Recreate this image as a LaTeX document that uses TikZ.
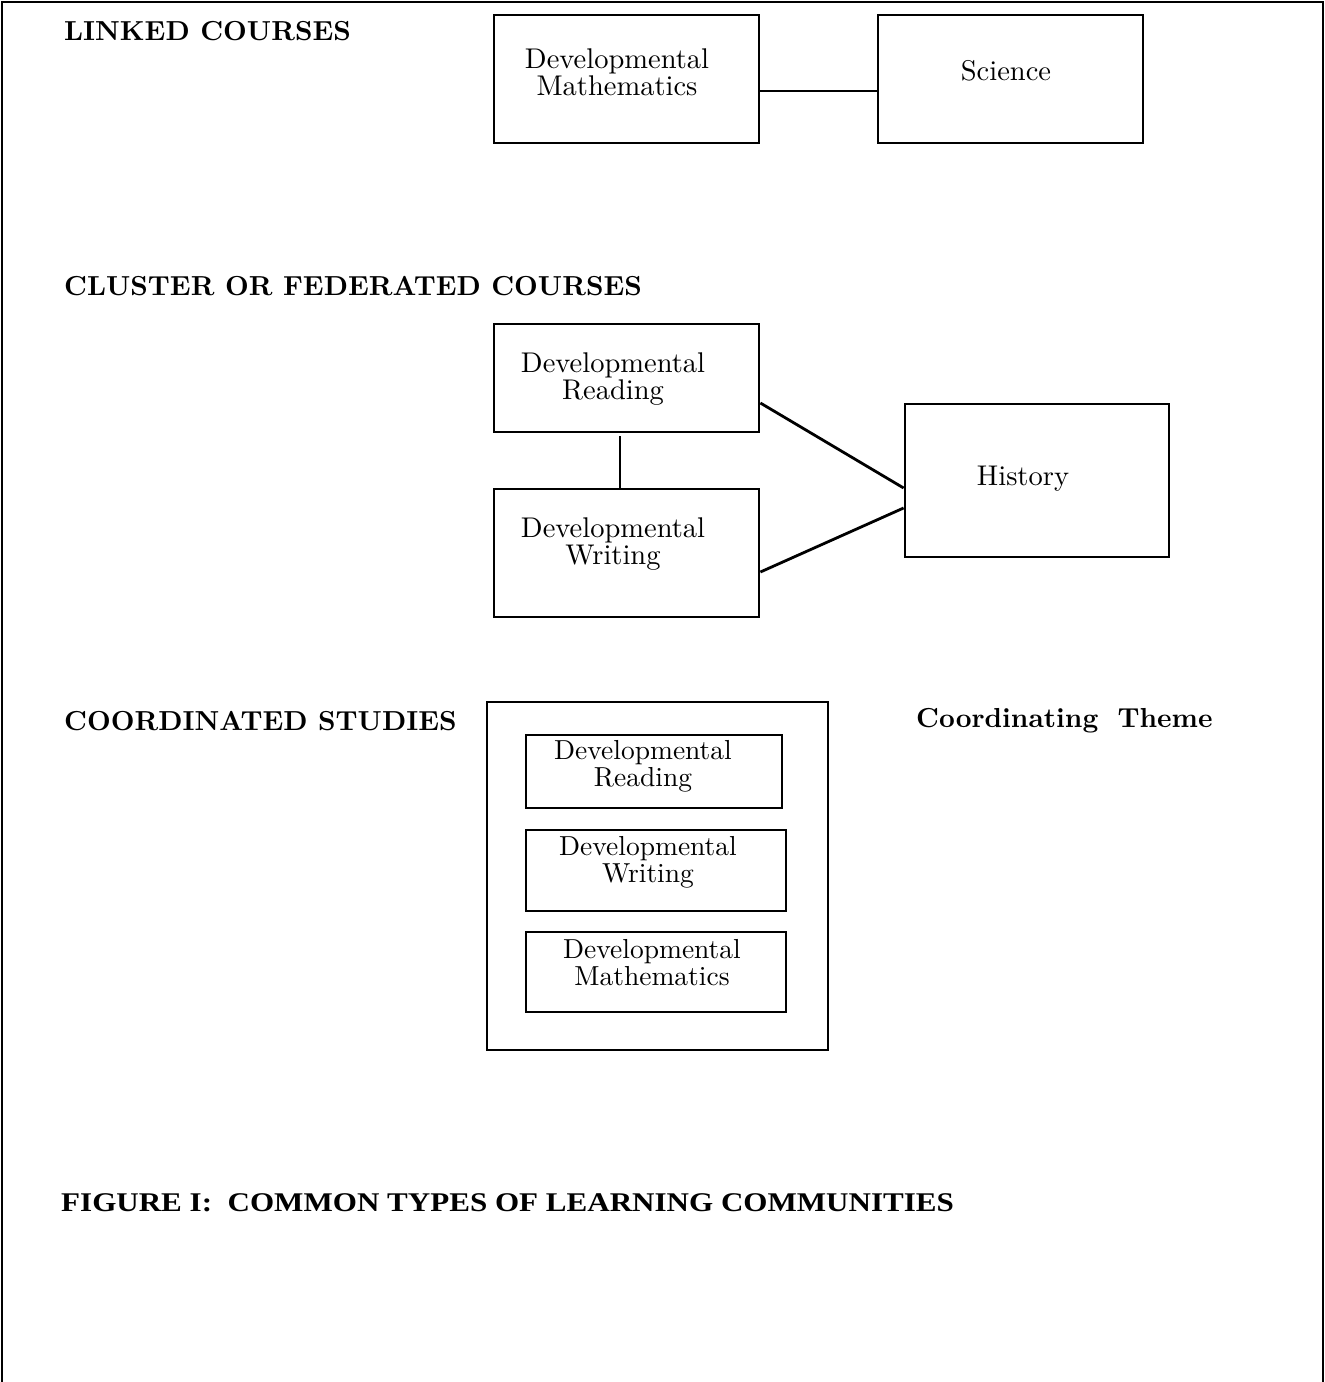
\documentclass[tikz,border=0pt]{standalone}
\usepackage{fontspec}
\setmainfont{lmroman10-regular.otf}[BoldFont=lmroman10-bold.otf]
\newfontfamily\capfont{Liberation Serif}
\begin{document}
\begin{tikzpicture}[x=1pt,y=-1pt,
  box/.style={draw,line width=2.8pt,inner sep=0pt},
  lbl/.style={align=center,font=\fontsize{28.5}{27}\selectfont,inner sep=0pt},
  slbl/.style={align=center,font=\fontsize{27.5}{27}\selectfont,inner sep=0pt},
  head/.style={anchor=west,font=\fontsize{27.5}{30}\selectfont\bfseries,inner sep=0pt},
  conn/.style={line width=2.8pt}]
\useasboundingbox (0,0) rectangle (1325,1382);
\draw[line width=2.2pt] (2,1382) -- (2,2) -- (1323,2) -- (1323,1382);

% Linked courses
\node[head] (h1) at (64,31) {LINKED COURSES};
\node[box,minimum width=265pt,minimum height=128pt] (dm) at (626.5,79) {};
\node[box,minimum width=265pt,minimum height=128pt] (sci) at (1010.5,79) {};
\node[lbl] (dmt) at (617,72) {Developmental\\Mathematics};
\node[lbl] (scit) at (1006,71) {Science};
\draw[conn] ([yshift=-12pt]dm.east) -- ([yshift=-12pt]sci.west);

% Cluster
\node[head] (h2) at (64,286) {CLUSTER OR FEDERATED COURSES};
\node[box,minimum width=265pt,minimum height=108pt] (dr) at (626.5,378) {};
\node[box,minimum width=265pt,minimum height=128pt] (dw) at (626.5,553) {};
\node[box,minimum width=264pt,minimum height=153pt] (hist) at (1037,480.5) {};
\node[lbl] (drt) at (613,379) {Developmental\\Reading};
\node[lbl] (dwt) at (613,544) {Developmental\\Writing};
\node[lbl] (histt) at (1023,479) {History};
\draw[conn] ([xshift=-6.5pt,yshift=-3pt]dr.south) -- ([xshift=-6.5pt]dw.north);
\draw[conn] ([yshift=-25pt]dr.east) -- ([yshift=-7.5pt]hist.west);
\draw[conn] ([yshift=-19pt]dw.east) -- ([yshift=-27.5pt]hist.west);

% Coordinated studies
\node[head] (h3) at (64,721) {COORDINATED STUDIES};
\node[box,minimum width=341pt,minimum height=348pt] (outer) at (657.5,876) {};
\node[box,minimum width=256pt,minimum height=73pt] (cr) at (654,771.5) {};
\node[box,minimum width=260pt,minimum height=81pt] (cw) at (656,870.5) {};
\node[box,minimum width=260pt,minimum height=80pt] (cm) at (656,972) {};
\node[slbl] (crt) at (643,766) {Developmental\\Reading};
\node[slbl] (cwt) at (648,862) {Developmental\\Writing};
\node[slbl] (cmt) at (652,963) {Developmental\\Mathematics};
\node[head] (theme) at (916,721) {Coordinating\hspace{0.7em}Theme};

% Caption
\node[anchor=west,inner sep=0pt,font=\capfont\bfseries\fontsize{27}{30}\selectfont] (cap) at (61,1203) {\scalebox{1.15}[1]{FIGURE I:\ \ COMMON TYPES OF LEARNING COMMUNITIES}};
\end{tikzpicture}
\end{document}
